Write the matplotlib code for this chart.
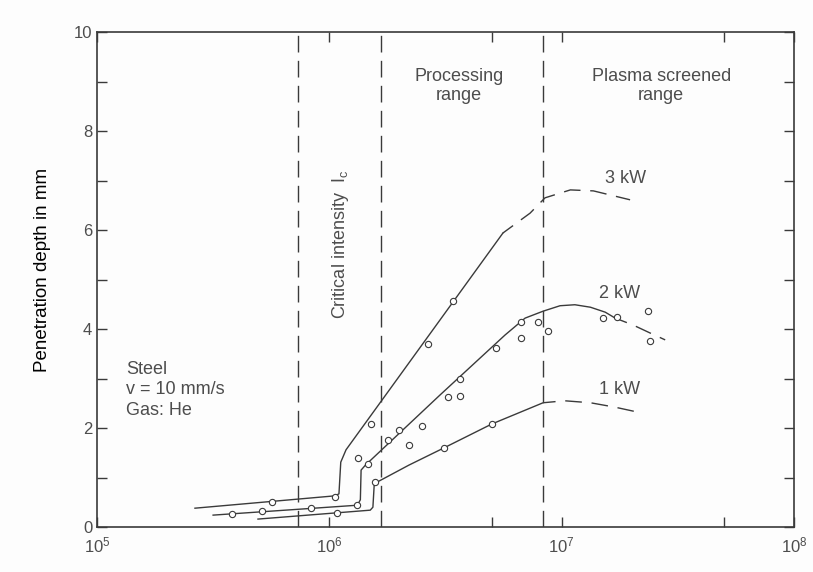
import matplotlib
matplotlib.use("Agg")
import matplotlib.pyplot as plt
from matplotlib.ticker import FixedLocator, NullFormatter

# intensity limits (W/cm^2) drawn as dashed verticals
limits = [7.3e5, 1.67e6, 8.3e6]

# fitted curves, solid part and dashed (extrapolated) part
kw3_solid_x = [2.64e5, 1.06e6, 1.10e6, 1.12e6, 1.18e6, 5.59e6]
kw3_solid_y = [0.38, 0.63, 0.67, 1.31, 1.56, 5.94]
kw3_dash_x = [5.59e6, 7.31e6, 8.48e6, 1.09e7, 1.37e7, 1.97e7]
kw3_dash_y = [5.94, 6.34, 6.65, 6.81, 6.79, 6.61]

kw2_solid_x = [3.16e5, 1.32e6, 1.36e6, 1.37e6, 1.43e6, 3.0e6, 5.71e6, 6.96e6,
               8.32e6, 9.84e6, 1.14e7, 1.33e7, 1.54e7, 1.70e7]
kw2_solid_y = [0.24, 0.44, 0.55, 1.15, 1.25, 2.67, 3.88, 4.22,
               4.36, 4.47, 4.49, 4.44, 4.34, 4.22]
kw2_dash_x = [1.70e7, 2.03e7, 2.40e7, 2.79e7]
kw2_dash_y = [4.22, 4.08, 3.92, 3.78]

kw1_solid_x = [4.93e5, 1.50e6, 1.54e6, 1.56e6, 1.61e6, 2.2e6, 3.12e6, 5.0e6, 8.32e6]
kw1_solid_y = [0.16, 0.34, 0.40, 0.85, 0.91, 1.25, 1.60, 2.08, 2.51]
kw1_dash_x = [8.32e6, 1.03e7, 1.33e7, 1.70e7, 2.13e7]
kw1_dash_y = [2.51, 2.55, 2.51, 2.42, 2.32]

# measured points
kw3_pts_x = [5.65e5, 1.06e6, 1.51e6, 2.67e6, 3.42e6]
kw3_pts_y = [0.51, 0.61, 2.08, 3.69, 4.57]
kw2_pts_x = [3.80e5, 5.12e5, 8.34e5, 1.32e6, 1.33e6, 1.46e6, 1.78e6, 2.00e6,
             2.21e6, 2.51e6, 3.25e6, 3.65e6, 3.65e6, 5.20e6, 6.67e6, 6.67e6,
             7.94e6, 8.71e6, 1.51e7, 1.73e7, 2.36e7, 2.40e7]
kw2_pts_y = [0.26, 0.32, 0.38, 0.44, 1.40, 1.27, 1.76, 1.95,
             1.66, 2.04, 2.62, 2.65, 2.99, 3.61, 4.15, 3.81,
             4.15, 3.95, 4.22, 4.24, 4.37, 3.76]
kw1_pts_x = [1.08e6, 1.57e6, 3.12e6, 5.0e6]
kw1_pts_y = [0.29, 0.90, 1.59, 2.08]

LINE_C = "#3a3a3a"
TEXT_C = "#4d4d4d"

plt.rcParams.update({
    "font.family": "Liberation Sans",
    "mathtext.fontset": "custom",
    "mathtext.rm": "Liberation Sans",
    "mathtext.it": "Liberation Sans",
    "font.size": 13,
    "text.color": TEXT_C,
    "xtick.color": LINE_C,
    "ytick.color": LINE_C,
    "xtick.labelcolor": TEXT_C,
    "ytick.labelcolor": TEXT_C,
    "xtick.labelsize": 12,
    "ytick.labelsize": 12,
})

fig = plt.figure(figsize=(8.13, 5.72), dpi=100)
fig.patch.set_facecolor("#fdfdfd")
ax = fig.add_axes([97 / 813, 1 - 527 / 572, 697 / 813, 495 / 572])
ax.set_facecolor("#fdfdfd")

for xv in limits:
    ax.axvline(xv, color=LINE_C, lw=1.0, ls=(0, (12, 6)))

for (sx, sy, dx, dy) in [(kw3_solid_x, kw3_solid_y, kw3_dash_x, kw3_dash_y),
                         (kw2_solid_x, kw2_solid_y, kw2_dash_x, kw2_dash_y),
                         (kw1_solid_x, kw1_solid_y, kw1_dash_x, kw1_dash_y)]:
    ax.plot(sx, sy, color=LINE_C, lw=1.0)
    ax.plot(dx, dy, color=LINE_C, lw=1.0, ls=(3, (12, 7)))

for (px, py) in [(kw3_pts_x, kw3_pts_y), (kw2_pts_x, kw2_pts_y), (kw1_pts_x, kw1_pts_y)]:
    ax.plot(px, py, ls="none", marker="o", ms=4.5, mfc="white", mec=LINE_C, mew=0.8)

ax.set_xscale("log")
ax.set_xlim(1e5, 1e8)
ax.set_ylim(0, 10)
ax.xaxis.set_major_locator(FixedLocator([1e5, 1e6, 1e7, 1e8]))
ax.xaxis.set_minor_locator(FixedLocator([5e6, 5e7]))
ax.xaxis.set_minor_formatter(NullFormatter())
ax.set_xticklabels(["$10^5$", "$10^6$", "$10^7$", "$10^8$"])
ax.set_yticks([0, 2, 4, 6, 8, 10])
ax.set_yticks([1, 3, 5, 7, 9], minor=True)
ax.tick_params(which="both", direction="in", top=True, right=True, length=7, width=1.0)
ax.tick_params(axis="x", pad=6)
for s in ax.spines.values():
    s.set_color(LINE_C)
    s.set_linewidth(1.2)

ax.set_ylabel("Penetration depth in mm", fontsize=13.5)
ax.yaxis.set_label_coords(-0.066, 0.519)

ax.text(3.62e6, 8.91, "Processing\nrange", ha="center", va="center", linespacing=1.1)
ax.text(2.68e7, 8.91, "Plasma screened\nrange", ha="center", va="center", linespacing=1.1)
ax.text(1.12e6, 5.70, "Critical intensity  $I_c$", rotation=90, ha="center", va="center")
ax.text(1.89e7, 7.05, "3 kW", ha="center", va="center")
ax.text(1.78e7, 4.71, "2 kW", ha="center", va="center")
ax.text(1.77e7, 2.77, "1 kW", ha="center", va="center")
ax.text(1.33e5, 3.35, "Steel\nv = 10 mm/s\nGas: He", ha="left", va="top", linespacing=1.25)

fig.savefig("out.png", dpi=100, facecolor=fig.get_facecolor())
